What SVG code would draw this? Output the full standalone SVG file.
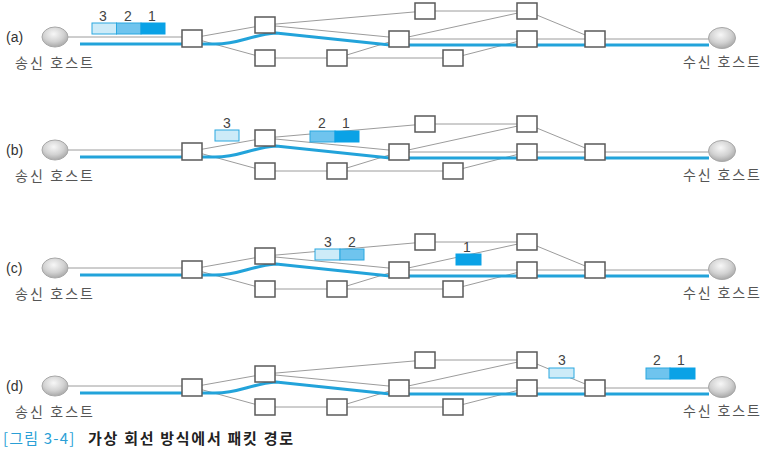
<svg xmlns="http://www.w3.org/2000/svg" width="769" height="452" viewBox="0 0 769 452">
<defs>
<radialGradient id="hostg" cx="45%" cy="35%" r="65%">
<stop offset="0" stop-color="#f7f7f7"/>
<stop offset="0.6" stop-color="#d2d2d2"/>
<stop offset="1" stop-color="#a9a9a9"/>
</radialGradient>
<style>
.g{stroke:#9c9c9c;stroke-width:1;fill:none}
.b{stroke:#22a3da;stroke-width:3;fill:none}
.rt{fill:#fff;stroke:#5a5a5a;stroke-width:1.5}
.host{fill:url(#hostg);stroke:#a8a8a8;stroke-width:1}
.pl{fill:#cdebf8;stroke:#2aa8e0;stroke-width:1}
.pm{fill:#6fc4ee;stroke:#2aa8e0;stroke-width:1}
.pd{fill:#0aa2e6;stroke:#0aa2e6;stroke-width:1}
.num{font-family:"Liberation Sans",Arial,sans-serif;font-size:14px;fill:#444;text-anchor:middle}
.lab{font-family:"Liberation Sans",Arial,sans-serif;font-size:14px;fill:#333}
.hl{font-family:"Noto Sans CJK KR","Noto Sans",sans-serif;font-size:14px;fill:#555}
.cap{font-family:"Noto Sans CJK KR","Noto Sans",sans-serif;font-size:15px}
</style>
</defs>
<rect width="769" height="452" fill="#fff"/>

<!-- Panel (a) -->
<g id="panel-a">
<g id="a-connectors">
<line class="g" x1="68" y1="37" x2="192" y2="37"/>
<line class="g" x1="192" y1="38" x2="265" y2="25"/>
<line class="g" x1="192" y1="38" x2="265" y2="58"/>
<line class="g" x1="265" y1="25" x2="425" y2="11"/>
<line class="g" x1="265" y1="25" x2="399" y2="38"/>
<line class="g" x1="265" y1="58" x2="453" y2="58"/>
<line class="g" x1="337" y1="58" x2="399" y2="39"/>
<line class="g" x1="425" y1="11" x2="527" y2="11"/>
<line class="g" x1="399" y1="39" x2="527" y2="11"/>
<line class="g" x1="399" y1="39" x2="595" y2="39"/>
<line class="g" x1="453" y1="58" x2="527" y2="39"/>
<line class="g" x1="527" y1="11" x2="595" y2="39"/>
<line class="g" x1="595" y1="39" x2="710" y2="39"/>
<path class="b" d="M80,44 L215,44 C240,44 250,35 276,33 L390,45 L709,45"/>
</g>
<text class="lab" x="6" y="42">(a)</text>
<g id="a-sender"><ellipse class="host" cx="55" cy="37" rx="13" ry="10"/><text class="hl" x="15" y="68" textLength="78">송신 호스트</text></g>
<g id="a-receiver"><ellipse class="host" cx="722" cy="38" rx="13.5" ry="10.5"/><text class="hl" x="683" y="67" textLength="77">수신 호스트</text></g>
<g id="a-r1"><rect class="rt" x="182" y="30" width="20" height="17"/></g>
<g id="a-r2"><rect class="rt" x="255" y="17" width="20" height="16"/></g>
<g id="a-r3"><rect class="rt" x="255" y="50" width="20" height="16"/></g>
<g id="a-r4"><rect class="rt" x="327" y="50" width="20" height="16"/></g>
<g id="a-r5"><rect class="rt" x="389" y="31" width="20" height="16"/></g>
<g id="a-r6"><rect class="rt" x="415" y="3" width="20" height="16"/></g>
<g id="a-r7"><rect class="rt" x="517" y="3" width="20" height="16"/></g>
<g id="a-r8"><rect class="rt" x="517" y="31" width="20" height="16"/></g>
<g id="a-r9"><rect class="rt" x="443" y="50" width="20" height="16"/></g>
<g id="a-r10"><rect class="rt" x="585" y="31" width="20" height="16"/></g>
<g id="a-packets">
<rect class="pl" x="92" y="23" width="24.5" height="11"/>
<rect class="pm" x="116.5" y="23" width="24.5" height="11"/>
<rect class="pd" x="141" y="23" width="24" height="11"/>
<text class="num" x="103" y="20.5">3</text>
<text class="num" x="128" y="20.5">2</text>
<text class="num" x="152" y="20.5">1</text>
</g>
</g>

<!-- Panel (b) -->
<g id="panel-b" transform="translate(0,113)">
<g id="b-connectors">
<line class="g" x1="68" y1="37" x2="192" y2="37"/>
<line class="g" x1="192" y1="38" x2="265" y2="25"/>
<line class="g" x1="192" y1="38" x2="265" y2="58"/>
<line class="g" x1="265" y1="25" x2="425" y2="11"/>
<line class="g" x1="265" y1="25" x2="399" y2="38"/>
<line class="g" x1="265" y1="58" x2="453" y2="58"/>
<line class="g" x1="337" y1="58" x2="399" y2="39"/>
<line class="g" x1="425" y1="11" x2="527" y2="11"/>
<line class="g" x1="399" y1="39" x2="527" y2="11"/>
<line class="g" x1="399" y1="39" x2="595" y2="39"/>
<line class="g" x1="453" y1="58" x2="527" y2="39"/>
<line class="g" x1="527" y1="11" x2="595" y2="39"/>
<line class="g" x1="595" y1="39" x2="710" y2="39"/>
<path class="b" d="M80,44 L215,44 C240,44 250,35 276,33 L390,45 L709,45"/>
</g>
<text class="lab" x="6" y="42">(b)</text>
<g id="b-sender"><ellipse class="host" cx="55" cy="37" rx="13" ry="10"/><text class="hl" x="15" y="68" textLength="78">송신 호스트</text></g>
<g id="b-receiver"><ellipse class="host" cx="722" cy="38" rx="13.5" ry="10.5"/><text class="hl" x="683" y="67" textLength="77">수신 호스트</text></g>
<g id="b-r1"><rect class="rt" x="182" y="30" width="20" height="17"/></g>
<g id="b-r2"><rect class="rt" x="255" y="17" width="20" height="16"/></g>
<g id="b-r3"><rect class="rt" x="255" y="50" width="20" height="16"/></g>
<g id="b-r4"><rect class="rt" x="327" y="50" width="20" height="16"/></g>
<g id="b-r5"><rect class="rt" x="389" y="31" width="20" height="16"/></g>
<g id="b-r6"><rect class="rt" x="415" y="3" width="20" height="16"/></g>
<g id="b-r7"><rect class="rt" x="517" y="3" width="20" height="16"/></g>
<g id="b-r8"><rect class="rt" x="517" y="31" width="20" height="16"/></g>
<g id="b-r9"><rect class="rt" x="443" y="50" width="20" height="16"/></g>
<g id="b-r10"><rect class="rt" x="585" y="31" width="20" height="16"/></g>
<g id="b-packets">
<rect class="pl" x="215" y="17" width="24" height="11"/>
<text class="num" x="227" y="15">3</text>
<rect class="pm" x="310" y="18" width="25" height="11"/>
<rect class="pd" x="335" y="18" width="24" height="11"/>
<text class="num" x="322" y="15">2</text>
<text class="num" x="346" y="15">1</text>
</g>
</g>

<!-- Panel (c) -->
<g id="panel-c" transform="translate(0,231)">
<g id="c-connectors">
<line class="g" x1="68" y1="37" x2="192" y2="37"/>
<line class="g" x1="192" y1="38" x2="265" y2="25"/>
<line class="g" x1="192" y1="38" x2="265" y2="58"/>
<line class="g" x1="265" y1="25" x2="425" y2="11"/>
<line class="g" x1="265" y1="25" x2="399" y2="38"/>
<line class="g" x1="265" y1="58" x2="453" y2="58"/>
<line class="g" x1="337" y1="58" x2="399" y2="39"/>
<line class="g" x1="425" y1="11" x2="527" y2="11"/>
<line class="g" x1="399" y1="39" x2="527" y2="11"/>
<line class="g" x1="399" y1="39" x2="595" y2="39"/>
<line class="g" x1="453" y1="58" x2="527" y2="39"/>
<line class="g" x1="527" y1="11" x2="595" y2="39"/>
<line class="g" x1="595" y1="39" x2="710" y2="39"/>
<path class="b" d="M80,44 L215,44 C240,44 250,35 276,33 L390,45 L709,45"/>
</g>
<text class="lab" x="6" y="42">(c)</text>
<g id="c-sender"><ellipse class="host" cx="55" cy="37" rx="13" ry="10"/><text class="hl" x="15" y="68" textLength="78">송신 호스트</text></g>
<g id="c-receiver"><ellipse class="host" cx="722" cy="38" rx="13.5" ry="10.5"/><text class="hl" x="683" y="67" textLength="77">수신 호스트</text></g>
<g id="c-r1"><rect class="rt" x="182" y="30" width="20" height="17"/></g>
<g id="c-r2"><rect class="rt" x="255" y="17" width="20" height="16"/></g>
<g id="c-r3"><rect class="rt" x="255" y="50" width="20" height="16"/></g>
<g id="c-r4"><rect class="rt" x="327" y="50" width="20" height="16"/></g>
<g id="c-r5"><rect class="rt" x="389" y="31" width="20" height="16"/></g>
<g id="c-r6"><rect class="rt" x="415" y="3" width="20" height="16"/></g>
<g id="c-r7"><rect class="rt" x="517" y="3" width="20" height="16"/></g>
<g id="c-r8"><rect class="rt" x="517" y="31" width="20" height="16"/></g>
<g id="c-r9"><rect class="rt" x="443" y="50" width="20" height="16"/></g>
<g id="c-r10"><rect class="rt" x="585" y="31" width="20" height="16"/></g>
<g id="c-packets">
<rect class="pl" x="315" y="18" width="25" height="11"/>
<rect class="pm" x="340" y="18" width="24" height="11"/>
<text class="num" x="328" y="16">3</text>
<text class="num" x="352" y="16">2</text>
<rect class="pd" x="456" y="23" width="25" height="11"/>
<text class="num" x="467" y="21">1</text>
</g>
</g>

<!-- Panel (d) -->
<g id="panel-d" transform="translate(0,349)">
<g id="d-connectors">
<line class="g" x1="68" y1="37" x2="192" y2="37"/>
<line class="g" x1="192" y1="38" x2="265" y2="25"/>
<line class="g" x1="192" y1="38" x2="265" y2="58"/>
<line class="g" x1="265" y1="25" x2="425" y2="11"/>
<line class="g" x1="265" y1="25" x2="399" y2="38"/>
<line class="g" x1="265" y1="58" x2="453" y2="58"/>
<line class="g" x1="337" y1="58" x2="399" y2="39"/>
<line class="g" x1="425" y1="11" x2="527" y2="11"/>
<line class="g" x1="399" y1="39" x2="527" y2="11"/>
<line class="g" x1="399" y1="39" x2="595" y2="39"/>
<line class="g" x1="453" y1="58" x2="527" y2="39"/>
<line class="g" x1="527" y1="11" x2="595" y2="39"/>
<line class="g" x1="595" y1="39" x2="710" y2="39"/>
<path class="b" d="M80,44 L215,44 C240,44 250,35 276,33 L390,45 L709,45"/>
</g>
<text class="lab" x="6" y="42">(d)</text>
<g id="d-sender"><ellipse class="host" cx="55" cy="37" rx="13" ry="10"/><text class="hl" x="15" y="68" textLength="78">송신 호스트</text></g>
<g id="d-receiver"><ellipse class="host" cx="722" cy="38" rx="13.5" ry="10.5"/><text class="hl" x="683" y="67" textLength="77">수신 호스트</text></g>
<g id="d-r1"><rect class="rt" x="182" y="30" width="20" height="17"/></g>
<g id="d-r2"><rect class="rt" x="255" y="17" width="20" height="16"/></g>
<g id="d-r3"><rect class="rt" x="255" y="50" width="20" height="16"/></g>
<g id="d-r4"><rect class="rt" x="327" y="50" width="20" height="16"/></g>
<g id="d-r5"><rect class="rt" x="389" y="31" width="20" height="16"/></g>
<g id="d-r6"><rect class="rt" x="415" y="3" width="20" height="16"/></g>
<g id="d-r7"><rect class="rt" x="517" y="3" width="20" height="16"/></g>
<g id="d-r8"><rect class="rt" x="517" y="31" width="20" height="16"/></g>
<g id="d-r9"><rect class="rt" x="443" y="50" width="20" height="16"/></g>
<g id="d-r10"><rect class="rt" x="585" y="31" width="20" height="16"/></g>
<g id="d-packets">
<rect class="pl" x="549" y="19" width="25" height="10"/>
<text class="num" x="562" y="16">3</text>
<rect class="pm" x="646" y="19" width="24" height="11"/>
<rect class="pd" x="670" y="19" width="25" height="11"/>
<text class="num" x="657" y="16">2</text>
<text class="num" x="681" y="16">1</text>
</g>
</g>

<g id="caption">
<text class="cap" x="3" y="444" fill="#2a9fd6" font-size="16" letter-spacing="1.2">[그림 3-4]</text>
<text class="cap" x="88" y="444" fill="#222" font-weight="bold" textLength="205">가상 회선 방식에서 패킷 경로</text>
</g>
</svg>
